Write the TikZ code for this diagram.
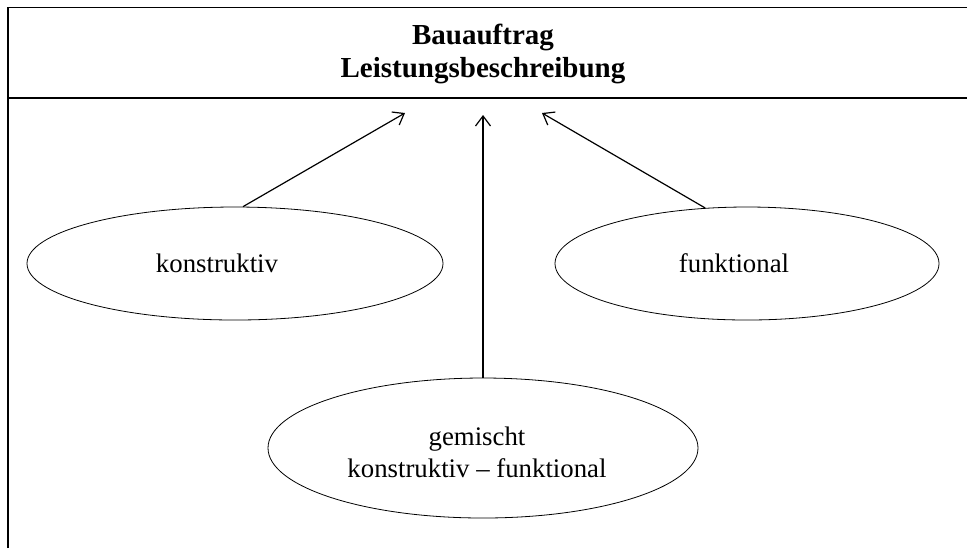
\documentclass[tikz,border=0pt]{standalone}
\usepackage{fontspec}
\setmainfont{Liberation Serif}
\usetikzlibrary{shapes.geometric,arrows.meta}

\tikzset{
  rahmen/.style={line width=0.75pt},
  art/.style={ellipse,draw,line width=0.4pt,inner sep=0pt},
  pfeil/.style={line width=0.6pt,-{Straight Barb[length=5pt,width=7.5pt]}},
  txt/.style={inner sep=0pt,align=center,font=\fontsize{13.4}{16}\selectfont}
}

\begin{document}
\begin{tikzpicture}[x=0.5pt,y=-0.5pt]
      \useasboundingbox (0,0) rectangle (967,548);
      % Rahmen und Kopfzeile
      \draw[rahmen] (8,548) -- (8,7.5) -- (967,7.5);
      \draw[rahmen] (8,98) -- (967,98);
      \node[txt,font=\fontsize{14.5}{16.5}\selectfont\bfseries] (kopf) at (483,54)
        {Bauauftrag\\Leistungsbeschreibung};
      % Arten
      \draw
        (235,263.5) node[art,minimum width=208pt,minimum height=56.5pt] (links){}
        (747,263.5) node[art,minimum width=192pt,minimum height=56.5pt] (rechts){}
        (483,448) node[art,minimum width=215pt,minimum height=70pt] (mitte){};
      \node[txt] (tl) at (217,263) {konstruktiv};
      \node[txt] (tr) at (734,263) {funktional};
      \node[txt] (tm) at (477,452) {gemischt\\konstruktiv -- funktional};
      % Pfeile
      \coordinate (zl) at (405,113);
      \coordinate (zm) at (483,115);
      \coordinate (zr) at (542,113);
      \begin{scope}[pfeil]
        \draw (links.82) to (zl);
        \draw (mitte.north) to (zm);
        \draw (rechts.127) to (zr);
      \end{scope}
    \end{tikzpicture}
\end{document}
